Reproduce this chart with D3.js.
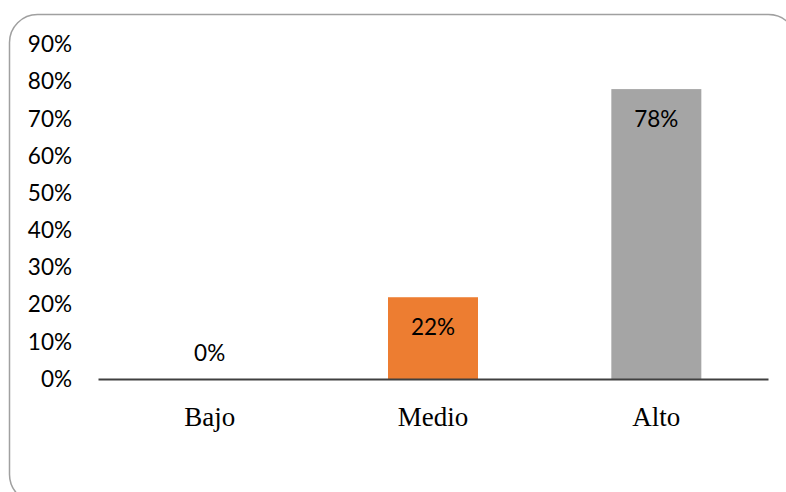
<!DOCTYPE html>
<html>
<head>
<meta charset="utf-8">
<script src="https://cdn.jsdelivr.net/npm/d3@7"></script>
<style>
  html, body { margin: 0; padding: 0; background: #fff; }
  svg { display: block; }
</style>
</head>
<body>
<svg id="chart"></svg>
<script>
const categories = ["Bajo", "Medio", "Alto"]
const values = [0, 0.22, 0.78]
const barColors = ["#5B9BD5", "#ED7D31", "#A5A5A5"]
const yTicks = [0, 0.1, 0.2, 0.3, 0.4, 0.5, 0.6, 0.7, 0.8, 0.9]

const width = 786
const height = 492
const plot = {left: 98, right: 768, top: 44.5, bottom: 379}

const svg = d3.select("#chart")
    .attr("width", width)
    .attr("height", height)

// Outer rounded frame (partly cut off on the right and bottom).
svg.append("rect")
    .attr("x", 9.5)
    .attr("y", 14.5)
    .attr("width", 787)
    .attr("height", 488)
    .attr("rx", 28)
    .attr("fill", "none")
    .attr("stroke", "#a0a0a0")
    .attr("stroke-width", 1.5)

const x = d3.scaleBand()
    .domain(categories)
    .range([plot.left, plot.right])
    .paddingInner(0.597)
    .paddingOuter(0.2985)

const y = d3.scaleLinear()
    .domain([0, 0.9])
    .range([plot.bottom, plot.top])

const pct = d3.format(".0%")

// Y axis labels only (no line, no ticks).
const yAxis = svg.append("g")
    .attr("transform", `translate(${plot.left},0)`)
    .call(d3.axisLeft(y).tickValues(yTicks).tickFormat(pct).tickSize(0).tickPadding(26))
yAxis.select(".domain").remove()
yAxis.selectAll("text")
    .attr("font-family", "Lato, 'Open Sans', sans-serif")
    .attr("font-size", 22.5)
    .attr("fill", "#000")

// Bars.
svg.append("g")
  .selectAll("rect")
  .data(values)
  .join("rect")
    .attr("x", (d, i) => x(categories[i]))
    .attr("y", d => y(d))
    .attr("width", x.bandwidth())
    .attr("height", d => y(0) - y(d))
    .attr("fill", (d, i) => barColors[i])

// Value labels.
svg.append("g")
  .selectAll("text")
  .data(values)
  .join("text")
    .attr("x", (d, i) => x(categories[i]) + x.bandwidth() / 2)
    .attr("y", d => d > 0 ? y(d) + 30 : y(0) - 26)
    .attr("dy", "0.35em")
    .attr("text-anchor", "middle")
    .attr("font-family", "Lato, 'Open Sans', sans-serif")
    .attr("font-size", 22.5)
    .attr("fill", "#000")
    .text(d => pct(d))

// X axis baseline and category labels.
const xAxis = svg.append("g")
    .attr("transform", `translate(0,${plot.bottom})`)
    .call(d3.axisBottom(x).tickSize(0).tickPadding(28))
xAxis.select(".domain")
    .attr("stroke", "#404040")
    .attr("stroke-width", 2)
xAxis.selectAll("text")
    .attr("font-family", "'Liberation Serif', 'Times New Roman', serif")
    .attr("font-size", 27)
    .attr("fill", "#000")
</script>
</body>
</html>
